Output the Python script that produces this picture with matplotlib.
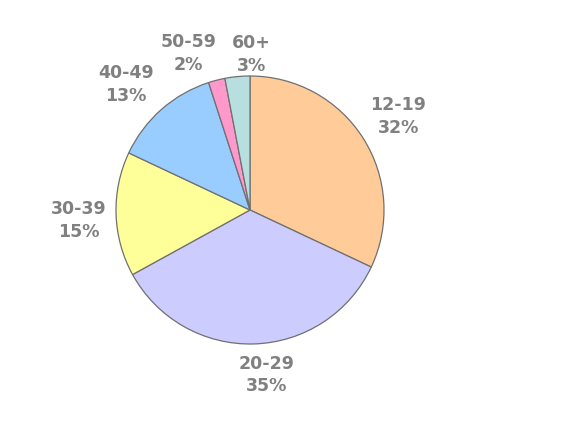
import numpy as np
import matplotlib.pyplot as plt

# 年龄分布
groups = ['12-19', '20-29', '30-39', '40-49', '50-59', '60+']
shares = [32, 35, 15, 13, 2, 3]
colors = ['#FFCC99', '#CCCCFF', '#FFFF99', '#99CCFF', '#FF99CC', '#B8DFE0']

fig = plt.figure(figsize=(5.62, 4.27), dpi=100)
ax = fig.add_axes([116 / 562, 82 / 427, 268 / 562, 268 / 427])

wedges, _ = ax.pie(shares, colors=colors, startangle=90, counterclock=False,
                   radius=1.0, wedgeprops=dict(edgecolor='#707070', linewidth=0.9))
ax.set_xlim(-1, 1)
ax.set_ylim(-1, 1)
ax.set_aspect('equal')
ax.axis('off')

# 标签位置：距离和角度微调
dist = [1.31, 1.23, 1.28, 1.32, 1.26, 1.17]
shift = [0, 4, 1.5, 3, 7, -6]
for w, g, s, d, a in zip(wedges, groups, shares, dist, shift):
    ang = np.deg2rad((w.theta1 + w.theta2) / 2 + a)
    ax.text(d * np.cos(ang), d * np.sin(ang), f'{g}\n{s}%', ha='center', va='center',
            fontsize=12.5, fontweight='bold', color='#808080', linespacing=1.35,
            clip_on=False)

fig.savefig('out.png', dpi=100)
